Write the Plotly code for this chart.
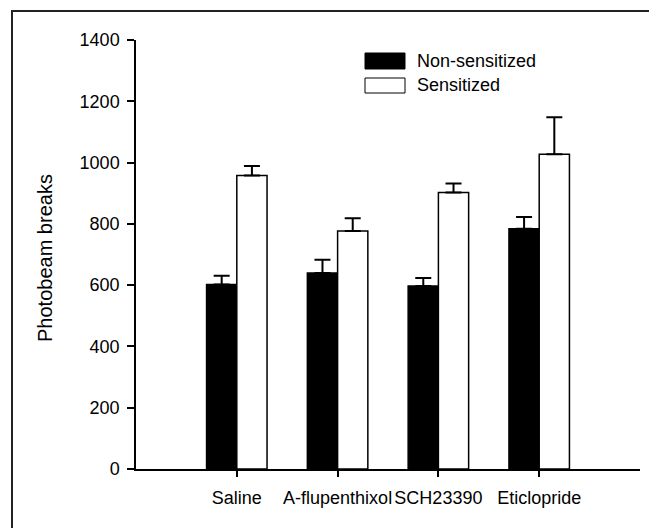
import plotly.graph_objects as go

categories = ["Saline", "A-flupenthixol", "SCH23390", "Eticlopride"]
non_sensitized = [602, 640, 597, 784]
non_sensitized_err = [29, 43, 26, 38]
sensitized = [958, 777, 902, 1027]
sensitized_err = [31, 41, 30, 121]
y_ticks = [0, 200, 400, 600, 800, 1000, 1200, 1400]

# page has an 8px body margin; figure placed at (8, 8)
OFF = 8
W, H = 649, 520
# desired plot area in page pixels
PL, PR, PT, PB = 136, 640, 40, 469
L, T = PL - OFF, PT - OFF
R = W - (PR - OFF)
B = H - (PB - OFF)
pw, ph = PR - PL, PB - PT

def px(x):
    return (x - PL) / pw

def py(y):
    return (PB - y) / ph

FONT = "Liberation Sans, Arial, Helvetica, sans-serif"
xs = list(range(len(categories)))

fig = go.Figure()
fig.add_trace(go.Bar(
    x=xs, y=non_sensitized, name="Non-sensitized",
    marker=dict(color="black", line=dict(color="black", width=1.5)),
    error_y=dict(type="data", symmetric=False, array=non_sensitized_err,
                 arrayminus=[0] * len(xs), color="black", thickness=2, width=8),
    showlegend=False,
))
fig.add_trace(go.Bar(
    x=xs, y=sensitized, name="Sensitized",
    marker=dict(color="white", line=dict(color="black", width=1.5)),
    error_y=dict(type="data", symmetric=False, array=sensitized_err,
                 arrayminus=[0] * len(xs), color="black", thickness=2, width=8),
    showlegend=False,
))

shapes = [
    # outer frame (left and top edges visible)
    dict(type="path", xref="paper", yref="paper",
         path=f"M {px(12)},{py(600)} L {px(12)},{py(11)} L {px(700)},{py(11)}",
         line=dict(color="#222", width=2)),
    # legend swatches
    dict(type="rect", xref="paper", yref="paper",
         x0=px(365), x1=px(405), y0=py(69), y1=py(53),
         fillcolor="black", line=dict(color="black", width=1)),
    dict(type="rect", xref="paper", yref="paper",
         x0=px(365), x1=px(405), y0=py(93), y1=py(78),
         fillcolor="white", line=dict(color="black", width=1)),
]

annotations = [
    dict(text="Non-sensitized", xref="paper", yref="paper", x=px(415), y=py(61),
         xanchor="left", yanchor="middle", showarrow=False,
         font=dict(family=FONT, size=18, color="black")),
    dict(text="Sensitized", xref="paper", yref="paper", x=px(415), y=py(85),
         xanchor="left", yanchor="middle", showarrow=False,
         font=dict(family=FONT, size=18, color="black")),
    dict(text="Photobeam breaks", xref="paper", yref="paper", x=px(45), y=py(258),
         xanchor="center", yanchor="middle", textangle=-90, showarrow=False,
         font=dict(family=FONT, size=20, color="black")),
]

fig.update_layout(
    width=W, height=H,
    margin=dict(l=L, r=R, t=T, b=B, pad=0),
    paper_bgcolor="white", plot_bgcolor="white",
    barmode="group", bargap=0.4, bargroupgap=0,
    font=dict(family=FONT, size=18, color="black"),
    shapes=shapes, annotations=annotations,
    xaxis=dict(range=[-1, 4.0], tickvals=xs, ticktext=categories,
               showgrid=False, zeroline=False, showline=True,
               linecolor="black", linewidth=1.5,
               ticks="outside", ticklen=6, tickwidth=1.5, tickcolor="black",
               ticklabelstandoff=6,
               tickfont=dict(family=FONT, size=18)),
    yaxis=dict(range=[0, 1400], tickvals=y_ticks,
               showgrid=False, zeroline=False, showline=True,
               linecolor="black", linewidth=1.5,
               ticks="outside", ticklen=7, tickwidth=1.5, tickcolor="black",
               ticklabelstandoff=4,
               tickfont=dict(family=FONT, size=18)),
)

fig.write_html("out.html")
